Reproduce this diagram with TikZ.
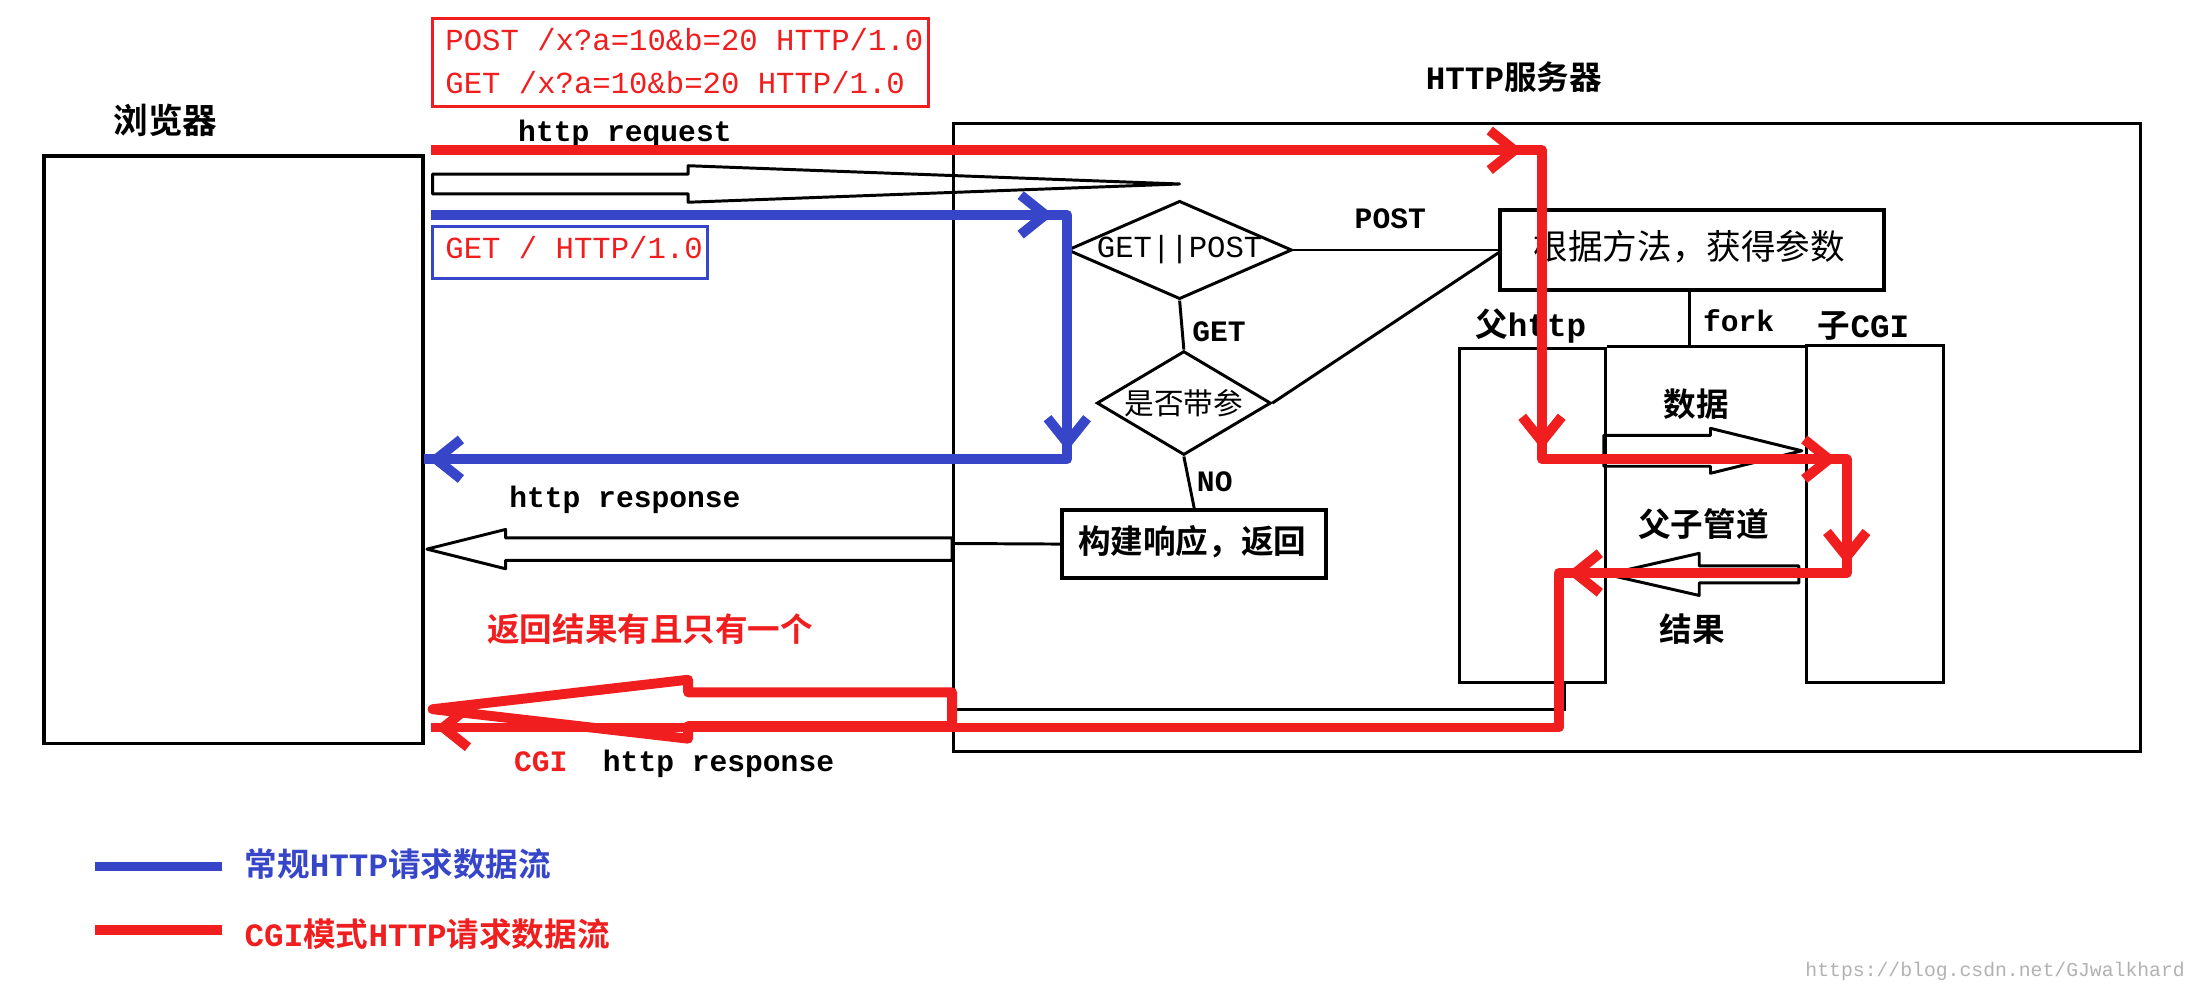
\documentclass[tikz,border=0pt]{standalone}
\usepackage{fontspec}
\setmainfont{Liberation Mono}
\newfontfamily\cjk{Noto Sans CJK SC}[BoldFont={* Bold}]
\newfontfamily\mono{Liberation Mono}[BoldFont={* Bold}]
\usetikzlibrary{shapes.geometric,arrows.meta}
\begin{document}
\begin{tikzpicture}[x=0.01cm,y=-0.01cm,
  every node/.style={inner sep=1pt},
  cn/.style={font=\cjk\bfseries\fontsize{6.6}{8}\selectfont},
  mn/.style={font=\mono\bfseries\fontsize{6}{7}\selectfont},
  box/.style={draw,line width=0.8pt,inner sep=0,anchor=north west},
  thin box/.style={draw,line width=0.6pt,inner sep=0,anchor=north west},
  dia/.style={draw,diamond,inner sep=0pt,line width=0.6pt},
  redarr/.style={draw=rd,line width=2pt,-{Straight Barb[length=5pt,width=8pt]}},
  bluarr/.style={draw=bl,line width=2pt,-{Straight Barb[length=5pt,width=8pt]}},
  ln/.style={draw,line width=0.6pt}]
\definecolor{rd}{RGB}{240,30,30}
\definecolor{bl}{RGB}{55,70,200}
\useasboundingbox (0,0) rectangle (1568,708);
\fill[white] (0,0) rectangle (1568,708);
% boxes
\node[box,minimum width={270*0.01cm},minimum height={418*0.01cm}] (br) at (30,110) {};
\node[cn,font=\cjk\bfseries\fontsize{7}{8}\selectfont] (brl) at (118,86) {浏览器};
\node[thin box,minimum width={845*0.01cm},minimum height={447*0.01cm}] (sv) at (678,87) {};
\node[cn] (svl) at (1078,55) {{\mono\bfseries HTTP}服务器};
\node[thin box,draw=rd,minimum width={353*0.01cm},minimum height={63*0.01cm}] (rq) at (307,12) {};
\node[mn,font=\mono\fontsize{6.2}{7}\selectfont,text=rd,anchor=west] (rq1) at (313,28) {POST /x?a=10\&b=20 HTTP/1.0};
\node[mn,font=\mono\fontsize{6.2}{7}\selectfont,text=rd,anchor=west] (rq2) at (313,59) {GET /x?a=10\&b=20 HTTP/1.0};
\node[thin box,draw=bl,minimum width={196*0.01cm},minimum height={37*0.01cm}] (gb) at (307,160) {};
\node[mn,font=\mono\fontsize{6.2}{7}\selectfont,text=rd,anchor=west] (gbt) at (313,176) {GET / HTTP/1.0};
\node[mn] (hrq) at (445,95) {http request};
% diamonds and boxes
\node[dia,minimum width={160*0.01cm},minimum height={70*0.01cm}] (d1) at (840,178) {};
\node[mn,font=\mono\fontsize{6.2}{7}\selectfont] (d1t) at (840,178) {GET||POST};
\node[dia,minimum width={124*0.01cm},minimum height={74*0.01cm}] (d2) at (843,287) {};
\node[cn,font=\cjk\fontsize{6}{7}\selectfont] (d2t) at (843,287) {是否带参};
\node[box,minimum width={188*0.01cm},minimum height={48*0.01cm}] (bj) at (755,362) {};
\node[cn] (bjt) at (849,386) {构建响应，返回};
\node[box,minimum width={273*0.01cm},minimum height={57*0.01cm}] (gj) at (1067,148) {};
\node[cn,font=\cjk\fontsize{7}{8}\selectfont] (gjt) at (1203,176) {根据方法，获得参数};
\node[thin box,minimum width={104*0.01cm},minimum height={238*0.01cm}] (fa) at (1038,247) {};
\node[thin box,minimum width={98*0.01cm},minimum height={240*0.01cm}] (zi) at (1285,245) {};
\node[cn] (fal) at (1090,232) {父{\mono\bfseries http}};
\node[cn] (zil) at (1327,232) {子{\mono\bfseries CGI}};
\node[mn] (fk) at (1238,228) {fork};
\node[mn] (gt) at (868,236) {GET};
\node[mn] (no) at (865,343) {NO};
\node[mn] (po) at (990,156) {POST};
\node[cn] (sj) at (1208,288) {数据};
\node[cn] (gd) at (1213,373) {父子管道};
\node[cn] (jg) at (1205,448) {结果};
\node[mn] (hrs) at (445,356) {http response};
\node[cn,text=rd] (fh) at (463,448) {返回结果有且只有一个};
\node[mn] (cgi) at (480,544) {\textcolor{rd}{CGI} \ http response};
% black lines
\draw[ln] (d1.south) -- (d2.north);
\draw[ln] (d2.south) -- (bj.north);
\draw[ln] (d1.east) -- (gj.west |- d1.east);
\draw[ln] (d2.east) -- (1067,180);
\coordinate (fk1) at (1203,205);
\draw[ln] (fk1) -- (1203,247);
\draw[ln] (fa.north east) -- (zi.north west |- fa.north east);
\draw[ln] (bj.west) -- (678,387);
\coordinate (fb) at (1114,485);
\draw[ln] (fb) -- (1114,505) -- (678,505);
% hollow arrows
\begin{scope}[line join=round]
\draw[line width=0.6pt] (308,124)--(490,124)--(490,118)--(840,131)--(490,144)--(490,138)--(308,138)--cycle;
\draw[line width=0.6pt] (678,383)--(360,383)--(360,377)--(304,391)--(360,405)--(360,399)--(678,399)--cycle;
\draw[line width=0.6pt] (1142,310)--(1218,310)--(1218,305)--(1283,321)--(1218,337)--(1218,332)--(1142,332)--cycle;
\draw[line width=0.6pt] (1281,403)--(1210,403)--(1210,394)--(1144,409)--(1210,424)--(1210,415)--(1281,415)--cycle;
\draw[draw=rd,line width=2pt] (678,493)--(490,493)--(490,484)--(308,505)--(490,526)--(490,517)--(678,517)--cycle;
\end{scope}
% red path
\coordinate (r0) at (307,107);
\coordinate (r1) at (1098,107);
\coordinate (r2) at (1098,327);
\coordinate (r3) at (1315,327);
\coordinate (r4) at (1315,408);
\coordinate (r5) at (1110,408);
\coordinate (r6) at (1110,518);
\coordinate (r7) at (307,518);
\draw[rd,line width=2pt,line join=round] (r0) -- (r1) -- (r2) -- (r3) -- (r4) -- (r5) -- (r6) -- (r7);
\draw[redarr] (1060,107) -- (1084,107);
\draw[redarr] (1098,290) -- (1098,320);
\draw[redarr] (1280,327) -- (1308,327);
\draw[redarr] (1315,380) -- (1315,402);
\draw[redarr] (1140,408) -- (1116,408);
\draw[redarr] (340,518) -- (310,518);
% blue path
\coordinate (b0) at (307,153);
\coordinate (b1) at (760,153);
\coordinate (b2) at (760,327);
\coordinate (b3) at (302,327);
\draw[bl,line width=2pt,line join=round] (b0) -- (b1) -- (b2) -- (b3);
\draw[bluarr] (720,153) -- (750,153);
\draw[bluarr] (760,290) -- (760,321);
\draw[bluarr] (340,327) -- (305,327);
% legend
\coordinate (l1) at (68,617); \coordinate (l2) at (158,617);
\coordinate (l3) at (68,662); \coordinate (l4) at (158,662);
\draw[bl,line width=2pt] (l1) -- (l2);
\draw[rd,line width=2pt] (l3) -- (l4);
\node[cn,text=bl,anchor=west] (lg1) at (170,615) {常规{\mono\bfseries HTTP}请求数据流};
\node[cn,text=rd,anchor=west] (lg2) at (170,665) {{\mono\bfseries CGI}模式{\mono\bfseries HTTP}请求数据流};
\node[font=\fontsize{4}{5}\selectfont,text=gray!60,anchor=east] (wm) at (1560,692) {https://blog.csdn.net/GJwalkhard};
\end{tikzpicture}
\end{document}
